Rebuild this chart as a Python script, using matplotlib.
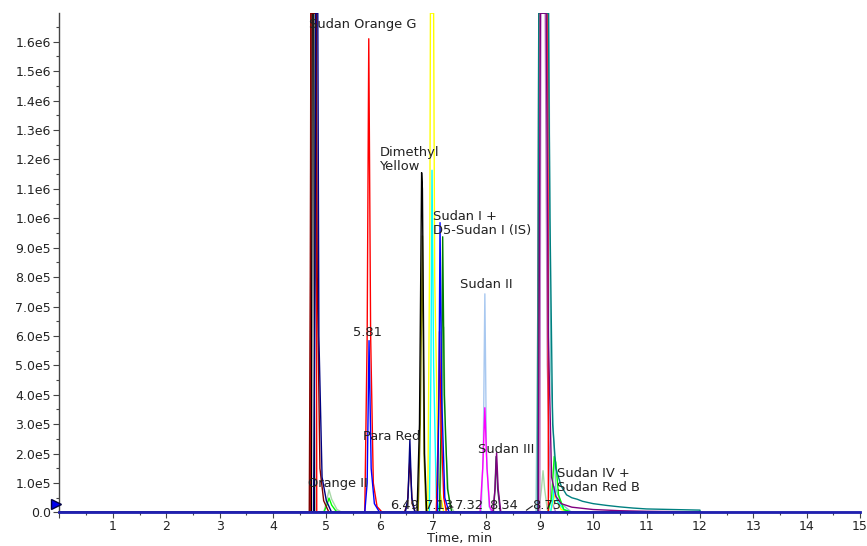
import numpy as np
import matplotlib
matplotlib.use('Agg')
import matplotlib.pyplot as plt
from matplotlib.ticker import MultipleLocator, FuncFormatter

plt.rcParams['font.family'] = ['DejaVu Sans']

# intensities below are in units of 1e5 counts
TOP = 16.97  # detector trace clipped at the top of the plot

maroon_t = [0, 4.68, 4.70, 4.71, 4.81, 4.83, 4.88, 4.95, 5.05, 6.46, 6.52, 6.565, 6.61, 6.67, 12]
maroon_y = [0, 0, 8, TOP, TOP, 8, 1.5, 0.4, 0, 0, 0.3, 1.82, 0.3, 0, 0]

navy_t = [0, 4.76, 4.79, 4.80, 4.84, 4.86, 4.92, 5.0, 5.1, 6.48, 6.53, 6.565, 6.60, 6.66, 12]
navy_y = [0, 0, 8, TOP, TOP, 6, 1.2, 0.4, 0, 0, 0.5, 2.47, 0.5, 0, 0]

black_t = [0, 4.72, 4.735, 4.75, 4.765, 4.78, 6.70, 6.745, 6.785, 6.80, 6.84, 6.88, 12]
black_y = [0, 0, TOP, TOP, TOP, 0, 0, 3, 11.55, 11.0, 2, 0, 0]

red_t = [0, 4.70, 4.71, 4.81, 4.82, 5.72, 5.765, 5.795, 5.83, 5.88, 5.95, 6.05,
         7.06, 7.10, 7.12, 7.15, 7.20, 7.25, 8.97, 8.98, 9.15, 9.16, 12]
red_y = [0, 0, TOP, TOP, 0, 0, 6, 16.1, 6, 1, 0.2, 0,
         0, 3, 6.15, 3, 0.5, 0, 0, TOP, TOP, 0, 0]

blue_t = [0, 5.72, 5.765, 5.80, 5.84, 5.90, 6.0, 7.08, 7.11, 7.13, 7.16, 7.22, 7.30, 15]
blue_y = [0, 0, 1.0, 5.84, 1.5, 0.3, 0, 0, 4, 9.85, 4, 0.5, 0, 0]

olive_t = [0, 6.72, 6.76, 6.80, 6.83, 6.87, 12]
olive_y = [0, 0, 3, 9.4, 2, 0, 0]

yellow_t = [0, 6.90, 6.94, 6.95, 7.01, 7.03, 7.10, 7.20, 9.20, 9.28, 9.40, 9.60, 12]
yellow_y = [0, 0, 10, TOP, TOP, 8, 1, 0, 0, 0.6, 0.1, 0, 0]

cyan_t = [0, 6.93, 6.96, 6.98, 7.01, 7.06, 7.12, 9.20, 9.25, 9.27, 9.32, 9.45, 9.60, 12]
cyan_y = [0, 0, 5, 11.63, 5, 0.5, 0, 0, 0.5, 0.87, 0.4, 0.1, 0, 0]

green_t = [0, 7.12, 7.16, 7.18, 7.21, 7.27, 7.35, 12]
green_y = [0, 0, 4, 9.37, 4, 0.8, 0, 0]

lime_t = [0, 4.95, 5.0, 5.05, 5.10, 5.18, 5.25, 9.15, 9.22, 9.27, 9.30, 9.35, 9.45, 9.60, 12]
lime_y = [0, 0, 0.2, 0.49, 0.25, 0.05, 0, 0, 0.5, 1.9, 1.7, 0.6, 0.1, 0, 0]

palegreen_t = [0, 4.95, 5.0, 5.05, 5.10, 5.20, 5.30, 7.12, 7.17, 7.20, 7.23, 7.30, 7.40,
               8.98, 9.03, 9.06, 9.09, 9.14, 9.20, 12]
palegreen_y = [0, 0, 0.35, 0.77, 0.45, 0.1, 0, 0, 2.5, 6.3, 2.5, 0.3, 0,
               0, 0.8, 1.42, 0.8, 0.1, 0, 0]

lightblue_t = [0, 7.90, 7.94, 7.97, 8.00, 8.05, 8.10, 12]
lightblue_y = [0, 0, 2, 7.43, 2, 0.2, 0, 0]

magenta_t = [0, 7.88, 7.93, 7.97, 8.01, 8.06, 8.12, 12]
magenta_y = [0, 0, 1.5, 3.56, 1.5, 0.2, 0, 0]

slate_t = [0, 8.13, 8.16, 8.18, 8.21, 8.26, 12]
slate_y = [0, 0, 0.8, 1.9, 0.8, 0, 0]

purple_t = [0, 8.12, 8.16, 8.19, 8.22, 8.27, 8.97, 8.99, 9.01, 9.12, 9.16, 9.22, 9.30, 9.40,
            9.60, 10.0, 10.5, 11.0, 12.0, 12.01]
purple_y = [0, 0, 0.8, 2.03, 0.8, 0, 0, 8, TOP, TOP, 6, 1.2, 0.55, 0.3,
            0.18, 0.1, 0.06, 0.04, 0.02, 0]

teal_t = [0, 8.96, 8.97, 8.98, 9.16, 9.19, 9.24, 9.30, 9.40, 9.50, 9.60, 9.70, 9.80,
          10.0, 10.25, 10.5, 10.75, 11.0, 11.5, 12.0, 12.01]
teal_y = [0, 0, 10, TOP, TOP, 10, 3, 1.5, 0.9, 0.6, 0.5, 0.45, 0.38,
          0.3, 0.24, 0.19, 0.15, 0.12, 0.1, 0.08, 0]

lightteal_t = [0, 8.93, 8.96, 8.98, 9.17, 9.20, 9.30, 9.40, 9.60, 12]
lightteal_y = [0, 0, 6.65, TOP, TOP, 5, 0.8, 0.3, 0, 0]

orchid_t = [0, 9.00, 9.02, 9.10, 9.14, 9.20, 9.30, 12]
orchid_y = [0, 0, TOP, TOP, 5, 0.5, 0, 0]

traces = [
    (palegreen_t, palegreen_y, '#a8d8a8'),
    (lightblue_t, lightblue_y, '#a8c8f0'),
    (lightteal_t, lightteal_y, '#80c8c8'),
    (orchid_t, orchid_y, '#c080c8'),
    (yellow_t, yellow_y, '#ffff00'),
    (cyan_t, cyan_y, '#00ffff'),
    (lime_t, lime_y, '#00ff00'),
    (magenta_t, magenta_y, '#ff00ff'),
    (olive_t, olive_y, '#808000'),
    (green_t, green_y, '#008000'),
    (red_t, red_y, '#ff0000'),
    (black_t, black_y, '#000000'),
    (slate_t, slate_y, '#2f4f4f'),
    (maroon_t, maroon_y, '#800000'),
    (teal_t, teal_y, '#008080'),
    (purple_t, purple_y, '#800080'),
    (navy_t, navy_y, '#000080'),
    (blue_t, blue_y, '#0000ff'),
]

peak_names = ['Sudan Orange G', 'Dimethyl\nYellow', 'Sudan I +\nD5-Sudan I (IS)', 'Sudan II',
              '5.81', 'Para Red', 'Sudan III', 'Sudan IV +\nSudan Red B', 'Orange II']
name_x = [5.68, 6.00, 6.99, 8.00, 5.78, 6.22, 8.37, 9.32, 5.21]
name_y = [16.58, 12.0, 9.81, 7.74, 6.10, 2.57, 2.13, 1.10, 0.97]
name_ha = ['center', 'left', 'left', 'center', 'center', 'center', 'center', 'left', 'center']

rt_labels = ['6.49', '7.13', '7.32', '8.34', '8.75']
rt_x = [6.47, 7.11, 7.68, 8.32, 9.12]
rt_y = [0.23, 0.23, 0.23, 0.23, 0.23]

fig = plt.figure(figsize=(8.67, 5.46), dpi=100)
ax = fig.add_axes([0.0686, 0.0614, 0.9234, 0.9156])

for t, y, c in traces:
    ax.plot(t, np.array(y) * 1e5, color=c, lw=1.0)

# baseline drawn in dark blue over everything
ax.plot([0, 15], [0, 0], color='#2020b0', lw=2.0, zorder=5, clip_on=False)

for s, x, y, ha in zip(peak_names, name_x, name_y, name_ha):
    ax.text(x, y * 1e5, s, ha=ha, va='center', fontsize=9.4, color='#222222',
            linespacing=1.1, zorder=6)

for s, x, y in zip(rt_labels, rt_x, rt_y):
    ax.text(x, y * 1e5, s, ha='center', va='center', fontsize=9.4, color='#222222', zorder=6)

# little leader lines of the retention time labels
ax.plot([7.26, 7.31, 7.37], [0.10e5, 0.22e5, 0.18e5], color='#222222', lw=0.8, zorder=6)
ax.plot([8.75, 8.86], [0.08e5, 0.22e5], color='#222222', lw=0.8, zorder=6)

ax.plot([-0.07], [0.29e5], marker='>', color='#0000ee', markeredgecolor='#000040',
        markersize=7, clip_on=False, zorder=7)

ax.set_xlim(0, 15)
ax.set_ylim(0, 16.99e5)
ax.xaxis.set_major_locator(MultipleLocator(1))
ax.xaxis.set_minor_locator(MultipleLocator(0.5))
ax.yaxis.set_major_locator(MultipleLocator(1e5))
ax.yaxis.set_minor_locator(MultipleLocator(0.5e5))


def yfmt(v, pos):
    if v < 1:
        return '0.0' if abs(v) < 1 else ''
    e = int(np.floor(np.log10(v)))
    return '{:.1f}e{}'.format(v / 10 ** e, e)


ax.yaxis.set_major_formatter(FuncFormatter(yfmt))
ax.xaxis.set_major_formatter(FuncFormatter(lambda v, p: '' if v < 0.5 else '{:d}'.format(int(round(v)))))

ax.spines['top'].set_visible(False)
ax.spines['right'].set_visible(False)
for sp in ['left', 'bottom']:
    ax.spines[sp].set_color('#444444')
    ax.spines[sp].set_linewidth(1.0)
ax.tick_params(which='major', length=4, width=0.8, color='#444444', labelsize=9, labelcolor='#222222')
ax.tick_params(which='minor', length=2, width=0.8, color='#444444')
ax.tick_params(axis='x', pad=1.5)
ax.tick_params(axis='y', pad=2)
ax.set_xlabel('Time, min', fontsize=9.4, color='#222222', labelpad=-1)

fig.savefig('out.png', dpi=100)
